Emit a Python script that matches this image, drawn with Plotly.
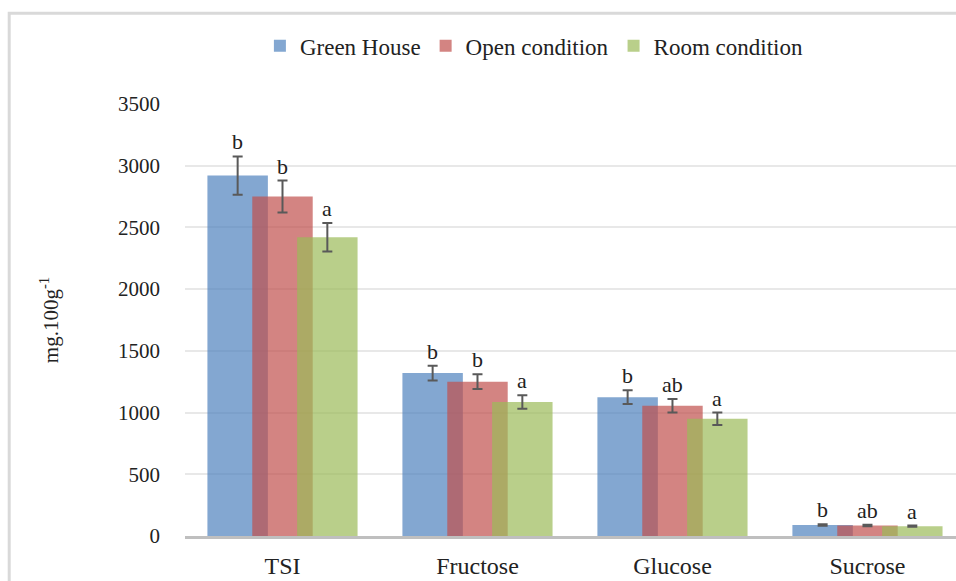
import plotly.graph_objects as go

# sugar content by growing condition (mg.100g-1)
categories = ["TSI", "Fructose", "Glucose", "Sucrose"]
series_names = ["Green House", "Open condition", "Room condition"]

green_house = [2920, 1320, 1125, 90]
open_condition = [2750, 1250, 1055, 85]
room_condition = [2420, 1085, 950, 80]

green_house_err = [155, 60, 55, 6]
open_condition_err = [130, 60, 55, 6]
room_condition_err = [115, 55, 50, 5]

green_house_letters = ["b", "b", "b", "b"]
open_condition_letters = ["b", "b", "ab", "ab"]
room_condition_letters = ["a", "a", "a", "a"]

y_ticks = [0, 500, 1000, 1500, 2000, 2500, 3000, 3500]

FONT = "Liberation Serif"
COLORS = ["rgba(79,129,189,0.7)", "rgba(192,80,77,0.7)", "rgba(155,187,89,0.7)"]
BAR_WIDTH = 0.31
OFFSETS = [-0.385, -0.155, 0.075]

values = [green_house, open_condition, room_condition]
errors = [green_house_err, open_condition_err, room_condition_err]
letters = [green_house_letters, open_condition_letters, room_condition_letters]

fig = go.Figure()

for name, vals, errs, color, off in zip(series_names, values, errors, COLORS, OFFSETS):
    fig.add_trace(go.Bar(
        name=name,
        x=categories,
        y=vals,
        width=BAR_WIDTH,
        offset=off,
        marker=dict(color=color, line=dict(width=0)),
        error_y=dict(type="data", array=errs, visible=True,
                     color="#595959", thickness=2, width=5),
    ))

# significance letters above each error bar
annotations = []
for vals, errs, labs, off in zip(values, errors, letters, OFFSETS):
    for i, (v, e, lab) in enumerate(zip(vals, errs, labs)):
        annotations.append(dict(
            x=i + off + BAR_WIDTH / 2, y=v + e, xref="x", yref="y",
            text=lab, showarrow=False, yanchor="bottom", yshift=0,
            font=dict(family=FONT, size=22, color="#222222"),
        ))

fig.update_layout(
    barmode="overlay",
    width=956,
    height=581,
    paper_bgcolor="white",
    plot_bgcolor="white",
    margin=dict(l=185, r=0, t=104, b=45, autoexpand=False),
    font=dict(family=FONT, size=21, color="#222222"),
    legend=dict(orientation="h", xref="container", yref="container",
                x=0.559, xanchor="center", y=0.921, yanchor="middle",
                bgcolor="rgba(0,0,0,0)",
                font=dict(family=FONT, size=23, color="#222222"),
                traceorder="normal", itemwidth=30),
    annotations=annotations,
    shapes=[dict(type="rect", xref="paper", yref="paper",
                 x0=-0.228, x1=1.2, y0=-0.3, y1=1.21,
                 line=dict(color="#d9d9d9", width=3), layer="below")],
    xaxis=dict(
        range=[-0.5, 3.454],
        showgrid=False,
        showline=True, linecolor="#bfbfbf", linewidth=3,
        ticks="", automargin=False, ticklabelstandoff=6,
        tickfont=dict(family=FONT, size=24, color="#222222"),
    ),
    yaxis=dict(
        range=[0, 3500],
        tickvals=y_ticks,
        showgrid=True, gridcolor="#e8e8e8", gridwidth=1.5,
        zeroline=False, showline=False, ticks="",
        ticklabelstandoff=24, automargin=False,
        tickfont=dict(family=FONT, size=21, color="#222222"),
        title=dict(text="mg.100g<sup>-1</sup>",
                   font=dict(family=FONT, size=21, color="#222222"), standoff=53),
    ),
)

# drop the default page margin so the figure fills the window exactly
fig.write_html("out.html",
               config={"displayModeBar": False},
               post_script="document.body.style.margin='0';"
                           "document.body.style.overflow='hidden';")
